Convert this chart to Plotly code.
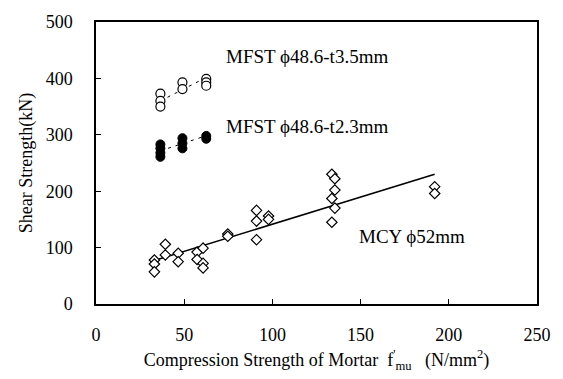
import plotly.graph_objects as go

# MFST phi48.6-t3.5mm (open circles)
t35_x = [36.5, 36.5, 36.5, 49.0, 49.0, 62.5, 62.5, 62.5]
t35_y = [373, 360, 350, 393, 381, 399, 393, 387]
# MFST phi48.6-t2.3mm (filled circles)
t23_x = [36.5, 36.5, 36.5, 36.5, 49.0, 49.0, 49.0, 62.5, 62.5]
t23_y = [283, 276, 268, 261, 294, 285, 276, 298, 293]
# MCY phi52mm (open diamonds)
mcy_x = [33.1, 33.1, 33.1, 39.3, 39.3, 46.6, 46.6, 57.3, 57.3, 60.7, 60.7, 60.7,
         74.7, 74.7, 91.0, 91.0, 91.0, 97.8, 97.8,
         133.7, 135.4, 135.4, 133.7, 135.4, 133.7, 192.0, 192.0]
mcy_y = [78, 71, 57, 106, 87, 90, 75, 92, 79, 99, 72, 64,
         124, 120, 166, 147, 114, 156, 150,
         230, 222, 202, 187, 170, 145, 208, 196]

# trend lines (slope, intercept, x-range)
t35_fit = (1.6, 301.7, [36.5, 62.5])
t23_fit = (1.03, 234.0, [36.5, 62.5])
mcy_fit = (0.9625, 45.2, [33.0, 192.0])

x_ticks = [0, 50, 100, 150, 200, 250]
y_ticks = [0, 100, 200, 300, 400, 500]

labels = ["MFST \u03d548.6-t3.5mm", "MFST \u03d548.6-t2.3mm", "MCY \u03d552mm"]
label_pos = [(72.3, 438), (72.3, 315), (148, 119)]

FONT = "Liberation Serif, Times New Roman, serif"

def line_pts(fit):
    m, b, xr = fit
    return xr, [m * v + b for v in xr]

fig = go.Figure()

for fit, dash, w in [(t35_fit, "3px,5px", 1), (t23_fit, "3px,5px", 1), (mcy_fit, "solid", 1.5)]:
    lx, ly = line_pts(fit)
    fig.add_trace(go.Scatter(x=lx, y=ly, mode="lines",
                             line=dict(color="black", width=w, dash=dash),
                             showlegend=False, hoverinfo="skip"))

fig.add_trace(go.Scatter(x=t35_x, y=t35_y, mode="markers",
                         marker=dict(symbol="circle", size=9, color="white",
                                     line=dict(color="black", width=1.2)),
                         showlegend=False))
fig.add_trace(go.Scatter(x=t23_x, y=t23_y, mode="markers",
                         marker=dict(symbol="circle", size=9, color="black",
                                     line=dict(color="black", width=1)),
                         showlegend=False))
fig.add_trace(go.Scatter(x=mcy_x, y=mcy_y, mode="markers",
                         marker=dict(symbol="diamond", size=8, color="white",
                                     line=dict(color="black", width=1.2)),
                         showlegend=False))

for txt, (ax, ay) in zip(labels, label_pos):
    fig.add_annotation(x=ax, y=ay, text=txt, showarrow=False, xanchor="left",
                       yanchor="middle", font=dict(family=FONT, size=19, color="black"))

fig.update_layout(
    width=563, height=379,
    margin=dict(l=96, r=21, t=16, b=74),
    paper_bgcolor="white", plot_bgcolor="white",
    font=dict(family=FONT, size=18, color="black"),
    xaxis=dict(range=[0, 250], tickvals=x_ticks, ticks="inside", ticklen=5,
               tickcolor="black", showline=True, linecolor="black", linewidth=1.5,
               mirror=True, showgrid=False, zeroline=False,
               ticklabelstandoff=14,
               title=dict(text="Compression Strength of Mortar  f<sup>'</sup><sub>mu</sub>   (N/mm<sup>2</sup>)",
                          font=dict(family=FONT, size=18), standoff=9)),
    yaxis=dict(range=[0, 500], tickvals=y_ticks, ticks="inside", ticklen=5,
               tickcolor="black", showline=True, linecolor="black", linewidth=1.5,
               mirror=True, showgrid=False, zeroline=False,
               ticklabelstandoff=18,
               title=dict(text="Shear Strength(kN)", font=dict(family=FONT, size=18),
                          standoff=8)),
)

fig.write_html("out.html")
